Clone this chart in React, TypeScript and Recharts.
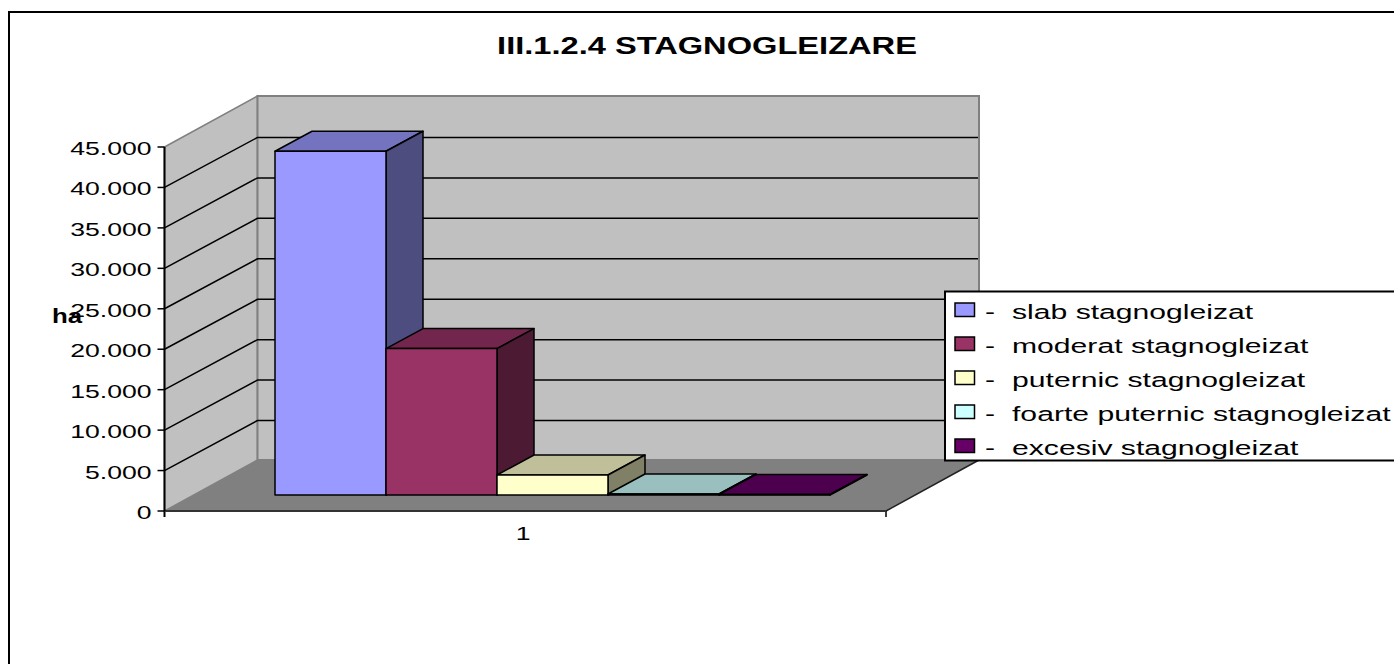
import { BarChart, Bar, XAxis, YAxis, ReferenceArea, ReferenceLine } from "recharts"

const categories = ["1"]
const seriesNames = [
  "slab stagnogleizat",
  "moderat stagnogleizat",
  "puternic stagnogleizat",
  "foarte puternic stagnogleizat",
  "excesiv stagnogleizat",
]
const seriesKeys = ["slab", "moderat", "puternic", "foarte", "excesiv"]
const seriesValues = [42500, 18100, 2470, 120, 60]
const seriesColors = ["#9999FF", "#993366", "#FFFFCC", "#CCFFFF", "#660066"]
const topColors = ["#7373BF", "#73264D", "#BFBF99", "#99BFBF", "#4D004D"]
const sideColors = ["#4D4D80", "#4D1A33", "#808066", "#668080", "#330033"]
const yTicks = [0, 5000, 10000, 15000, 20000, 25000, 30000, 35000, 40000, 45000]

const FONT = "'Liberation Sans', Arial, sans-serif"
const WALL_X = 93
const WALL_Y = 51
const GRID_Y = 50
const BAR_SHIFT_X = 27.75
const BAR_SHIFT_Y = 16
const BAR_DEPTH_X = 37
const BAR_DEPTH_Y = 20
const LEGEND_ROWS = [310, 344, 378, 412, 446]

const chartData = categories.map((cat) => {
  const row: Record<string, string | number> = { cat }
  seriesKeys.forEach((key, i) => {
    row[key] = seriesValues[i]
  })
  return row
})

const formatTick = (v: number) => (v === 0 ? "0" : `${v / 1000}.000`)

// the source picture is stretched sideways, so the text is too
function StretchedText({ x, y, anchor = "start", size = 18.6, stretch = 1.43, bold = false, children }: any) {
  return (
    <text
      transform={`translate(${x},${y}) scale(${stretch},1)`}
      textAnchor={anchor}
      fontFamily={FONT}
      fontSize={size}
      fontWeight={bold ? "bold" : "normal"}
      fill="#000"
    >
      {children}
    </text>
  )
}

function Walls({ x, y, width, height }: any) {
  const right = x + width
  const bottom = y + height
  return (
    <g>
      <polygon
        points={`${x},${y} ${x + WALL_X},${y - WALL_Y} ${x + WALL_X},${bottom - WALL_Y} ${x},${bottom}`}
        fill="#C0C0C0"
        stroke="#808080"
        strokeWidth={1.5}
      />
      <rect
        x={x + WALL_X}
        y={y - WALL_Y}
        width={width}
        height={height}
        fill="#C0C0C0"
        stroke="#808080"
        strokeWidth={2}
      />
      <polygon
        points={`${x},${bottom} ${x + WALL_X},${bottom - WALL_Y} ${right + WALL_X},${bottom - WALL_Y} ${right},${bottom}`}
        fill="#808080"
      />
      <path d={`M${right},${bottom}L${right + WALL_X},${bottom - WALL_Y}`} stroke="#222" strokeWidth={1.5} />
      <path d={`M${right},${bottom}v6`} stroke="#000" strokeWidth={1.5} />
      <path d={`M${x},${bottom}v6`} stroke="#000" strokeWidth={2} />
    </g>
  )
}

function GridLine({ x1, x2, y1 }: any) {
  return (
    <path
      d={`M${x1},${y1}L${x1 + WALL_X},${y1 - GRID_Y}L${x2 + WALL_X - 1},${y1 - GRID_Y}`}
      fill="none"
      stroke="#000"
      strokeWidth={1.5}
    />
  )
}

function Bar3D({ x, y, width, height, index, seriesIndex }: any) {
  const left = x + BAR_SHIFT_X
  const top = y - BAR_SHIFT_Y
  const right = left + width
  const bottom = top + height
  const i = seriesIndex ?? index
  return (
    <g stroke="#000" strokeWidth={1.5} strokeLinejoin="round">
      <polygon
        points={`${left},${top} ${left + BAR_DEPTH_X},${top - BAR_DEPTH_Y} ${right + BAR_DEPTH_X},${top - BAR_DEPTH_Y} ${right},${top}`}
        fill={topColors[i]}
      />
      <polygon
        points={`${right},${top} ${right + BAR_DEPTH_X},${top - BAR_DEPTH_Y} ${right + BAR_DEPTH_X},${bottom - BAR_DEPTH_Y} ${right},${bottom}`}
        fill={sideColors[i]}
      />
      <rect x={left} y={top} width={width} height={height} fill={seriesColors[i]} />
    </g>
  )
}

function YTick({ x, y, payload }: any) {
  return (
    <StretchedText x={x} y={y + 8} anchor="end">
      {formatTick(payload.value)}
    </StretchedText>
  )
}

function XTick({ x, payload }: any) {
  return (
    <StretchedText x={x - 2} y={540} anchor="middle">
      {payload.value}
    </StretchedText>
  )
}

export default function App() {
  return (
    <div style={{ position: "absolute", left: 0, top: 0, width: 1394, height: 664, overflow: "hidden", background: "#fff" }}>
      <div
        style={{
          position: "absolute",
          left: 8,
          top: 11,
          width: 1500,
          height: 800,
          border: "2px solid #000",
        }}
      />
      <div style={{ position: "absolute", left: 0, top: 0 }}>
        <BarChart
          width={1394}
          height={664}
          data={chartData}
          margin={{ top: 147, right: 508, bottom: 0, left: 0 }}
          barCategoryGap={82.75}
          barGap={0}
        >
          <XAxis
            dataKey="cat"
            height={153}
            axisLine={{ stroke: "#333", strokeWidth: 2 }}
            tickLine={false}
            tick={<XTick />}
          />
          <YAxis
            width={164.5}
            domain={[0, 45000]}
            ticks={yTicks}
            interval={0}
            tickSize={7}
            tickMargin={6}
            axisLine={{ stroke: "#000", strokeWidth: 2 }}
            tickLine={{ stroke: "#000", strokeWidth: 1.5 }}
            tick={<YTick />}
          />
          <ReferenceArea y1={0} y2={45000} shape={<Walls />} zIndex={100} />
          {yTicks.slice(1, -1).map((t) => (
            <ReferenceLine key={t} y={t} shape={<GridLine />} zIndex={150} />
          ))}
          {seriesKeys.map((key, i) => (
            <Bar
              key={key}
              dataKey={key}
              name={seriesNames[i]}
              fill={seriesColors[i]}
              isAnimationActive={false}
              shape={<Bar3D seriesIndex={i} />}
            />
          ))}
        </BarChart>
      </div>
      <svg width={1394} height={664} style={{ position: "absolute", left: 0, top: 0 }}>
        <StretchedText x={707} y={54} anchor="middle" size={24} stretch={1.36} bold>
          III.1.2.4 STAGNOGLEIZARE
        </StretchedText>
        <StretchedText x={52} y={322.5} size={20} stretch={1.29} bold>
          ha
        </StretchedText>
        <rect x={945} y={291.5} width={480} height={169} fill="#fff" stroke="#000" strokeWidth={2} />
        {seriesNames.map((name, i) => (
          <g key={name}>
            <rect
              x={955}
              y={LEGEND_ROWS[i] - 7}
              width={19.5}
              height={13.5}
              fill={seriesColors[i]}
              stroke="#000"
              strokeWidth={1.5}
            />
            <StretchedText x={985} y={LEGEND_ROWS[i] + 9} size={20.5} stretch={1.47}>
              -
            </StretchedText>
            <StretchedText x={1012} y={LEGEND_ROWS[i] + 9} size={20.5} stretch={1.47}>
              {name}
            </StretchedText>
          </g>
        ))}
      </svg>
    </div>
  )
}
